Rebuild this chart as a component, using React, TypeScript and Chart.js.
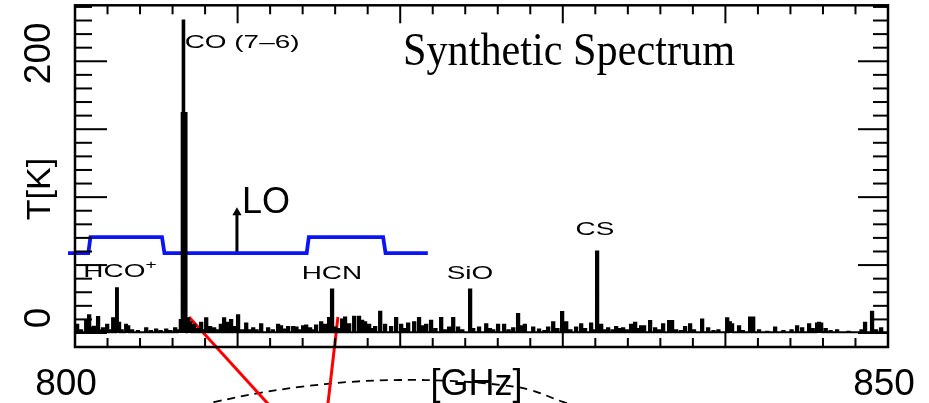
import React, { useEffect, useRef } from 'react';
import { Chart, registerables } from 'chart.js';

Chart.register(...registerables);

// ---- axis ranges & ticks ----
const X_MIN = 800;
const X_MAX = 850;
const Y_MIN = -10.3;
const Y_MAX = 241.2;
const xTickValues = [800, 850];
const xTickLabels = ['800', '850'];
const yTickValues = [0, 200];
const yTickLabels = ['0', '200'];
const xMinorStep = 2;
const xMajorStep = 10;
const yMinorStep = 10;
const yMajorStep = 50;

// ---- spectrum (GHz, K) ----
const baselineT = 0.5;
const channelWidth = 0.14;
const spikeFreq = [
  800.06, 800.3, 800.62, 800.8, 800.95, 801.11, 801.35, 801.5, 801.66, 801.91, 802.1, 802.28, 802.52, 802.64, 802.8,
  803.08, 803.2, 803.44, 803.8, 804.31, 804.6, 804.92, 805.2, 805.54, 805.8, 806.09, 806.3, 806.44,
  806.56, 806.62, 806.72, 806.89, 807.02, 807.26, 807.45, 807.69, 807.85, 808.0, 808.24, 808.49, 808.7, 808.9,
  809.1, 809.3, 809.53, 809.75, 809.96, 810.2, 810.46, 810.65, 810.89, 811.1, 811.38, 811.81, 812.1, 812.42,
  812.6, 812.8, 813.04, 813.35, 813.55, 813.8, 813.96, 814.15, 814.39, 814.6, 814.76, 815.07, 815.3, 815.56,
  815.74, 815.93, 816.15, 816.36, 816.54, 816.79, 817.1, 817.4, 817.59, 817.77, 818.02, 818.2, 818.39, 818.7,
  819.0, 819.37, 819.68, 819.99, 820.2, 820.42, 820.79, 821.09, 821.3, 821.53, 821.83, 822.1, 822.45, 822.7,
  822.94, 823.19, 823.49, 823.75, 824.23, 824.42, 824.78, 825.22, 825.45, 825.65, 825.95, 826.32, 826.6, 826.88,
  827.18, 827.4, 827.6, 828.11, 828.47, 828.8, 829.03, 829.34, 829.6, 829.89, 830.14, 830.4, 830.75, 831.06,
  831.3, 831.67, 831.85, 832.04, 832.29, 832.5, 832.72, 833.0, 833.21, 833.4, 833.64, 833.9, 834.13, 834.38,
  834.6, 834.75, 834.93, 835.3, 835.61, 835.85, 836.1, 836.47, 836.65, 836.9, 837.2, 837.45, 837.76, 838.0,
  838.5, 838.87, 839.2, 839.5, 840.04, 840.2, 840.34, 840.77, 841.0, 841.45, 841.64, 842.0, 842.5, 842.99,
  843.5, 844.0, 844.34, 844.65, 845.08, 845.3, 845.57, 845.7, 845.82, 846.1, 846.4, 846.8, 847.5, 848.3,
  848.52, 848.95, 849.2, 849.51,
];
const spikeT = [
  6, 2, 9.5, 13, 4, 4.6, 11.7, 2, 3.5, 6, 2, 10.8, 33, 7.5, 2,
  6, 5, 2, 1.5, 3.5, 1.5, 2.5, 1.5, 2.5, 1.5, 3.5, 2, 9.5,
  162, 230, 162, 10.8, 8, 6, 3, 7.5, 2, 10.8, 4.5, 3.5, 2, 6,
  10.8, 7.6, 9.5, 4.5, 13, 2, 7, 2, 3.5, 2, 6.5, 3.5, 2, 6,
  5, 2.5, 4.5, 4.5, 4, 2, 5, 5.5, 3.5, 2, 5.5, 8, 6, 11,
  32, 4, 3, 10, 11.5, 6.5, 12, 12, 9, 8, 6, 3, 4.5, 15.6,
  6, 4.5, 11, 6, 3, 7, 8, 11, 5, 6, 9, 3, 11, 2,
  4, 11, 4, 2, 32, 3, 4, 6.5, 3, 2, 6, 6, 2, 3.5,
  14, 5, 6, 4, 2.5, 1.5, 4, 8, 3, 15.5, 8, 2, 4, 6.5,
  3, 7, 2, 60, 6, 2, 3.5, 2, 4.5, 3, 3.5, 2, 6, 7.5,
  3, 5, 5, 8.8, 3.5, 2, 6.4, 8.8, 8.8, 2, 1.5, 4.5, 6.4, 2,
  10, 3.5, 1.5, 2, 10.8, 8, 6.4, 5, 1.5, 11.5, 11.5, 2, 1, 4,
  1.5, 2, 5, 3.5, 6.5, 3, 7, 7.5, 7, 3, 1.5, 2, 1, 2,
  7.5, 15.6, 2, 3.5,
];

// ---- labelled molecular lines ----
const lineNames = ['HCO', 'CO (7–6)', 'HCN', 'SiO', 'CS'];
const lineFreq = [802.52, 806.62, 815.74, 824.23, 832.04];
const linePeak = [33, 230, 32, 32, 60];

// ---- IF band (blue) ----
const ifBandFreq = [799.57, 800.82, 800.95, 805.35, 805.5, 814.25, 814.38, 818.95, 819.1, 821.7];
const ifBandT = [58.8, 58.8, 70.6, 70.6, 58.8, 58.8, 70.6, 70.6, 58.8, 58.8];

// ---- LO arrow ----
const loFreq = 809.96;
const loT = [58.8, 88.7];

// ---- red rays & dashed arc (below the axis) ----
const ray1Freq = [807.01, 811.99];
const ray1T = [11.8, -53.7];
const ray2Freq = [816.17, 815.54];
const ray2T = [11.8, -53.7];
const arcFreq = [807.69, 808.61, 811.38, 813.84, 816.91, 819.99, 823.06, 826.14, 827.98, 830.01, 831.06];
const arcT = [-53.7, -50.7, -44.1, -39.7, -36.0, -34.6, -35.3, -38.2, -41.9, -50.7, -54.4];

const SANS = '"Liberation Sans", Arial, Helvetica, sans-serif';
const SERIF = '"Liberation Serif", "Times New Roman", serif';

function buildSpectrum() {
  const idx = spikeFreq.map((_, i) => i).sort((a, b) => spikeFreq[a] - spikeFreq[b]);
  const pts: { x: number; y: number }[] = [{ x: X_MIN, y: baselineT }];
  idx.forEach((i, k) => {
    const f = spikeFreq[i];
    pts.push({ x: f, y: spikeT[i] });
    const end = f + channelWidth;
    const nextI = idx[k + 1];
    if (nextI === undefined || spikeFreq[nextI] > end + 1e-9) {
      pts.push({ x: Math.min(end, X_MAX), y: baselineT });
    }
  });
  pts.push({ x: X_MAX, y: baselineT });
  return pts;
}

const zip = (xs: number[], ys: number[]) => xs.map((x, i) => ({ x, y: ys[i] }));

function drawText(
  ctx: CanvasRenderingContext2D,
  s: string,
  x: number,
  y: number,
  font: string,
  align: CanvasTextAlign = 'left',
  sx = 1,
  rot = 0
) {
  ctx.save();
  ctx.translate(x, y);
  if (rot) ctx.rotate(rot);
  ctx.scale(sx, 1);
  ctx.font = font;
  ctx.textAlign = align;
  ctx.textBaseline = 'alphabetic';
  ctx.fillStyle = '#000';
  ctx.fillText(s, 0, 0);
  ctx.restore();
}

const decorPlugin = {
  id: 'decor',
  afterDatasetsDraw(chart: any) {
    const { ctx, chartArea: a, scales } = chart;
    const xs = scales.x;
    const ys = scales.y;
    ctx.save();
    ctx.strokeStyle = '#000';
    ctx.lineWidth = 2;
    ctx.lineCap = 'butt';
    const seg = (x1: number, y1: number, x2: number, y2: number) => {
      ctx.beginPath();
      ctx.moveTo(x1, y1);
      ctx.lineTo(x2, y2);
      ctx.stroke();
    };
    // x ticks (bottom & top, inward)
    for (let v = X_MIN; v <= X_MAX + 1e-6; v += xMinorStep) {
      const px = xs.getPixelForValue(v);
      const major = Math.abs((v - X_MIN) % xMajorStep) < 1e-6;
      seg(px, a.bottom, px, a.bottom - (major ? 14 : 9));
      seg(px, a.top, px, a.top + (major ? 18 : 9));
    }
    // y ticks (left & right, inward)
    for (let v = 0; v <= Y_MAX; v += yMinorStep) {
      const py = ys.getPixelForValue(v);
      const major = v % yMajorStep === 0;
      seg(a.left, py, a.left + (major ? 32 : 17), py);
      seg(a.right, py, a.right - (major ? 30 : 15), py);
    }
    // frame
    ctx.lineWidth = 2.5;
    ctx.strokeRect(a.left, a.top, a.right - a.left, a.bottom - a.top);
    ctx.restore();

    // tick labels
    const xLabelShift = [-9, -4];
    xTickValues.forEach((v, i) => {
      const px = xs.getPixelForValue(v);
      drawText(ctx, xTickLabels[i], px + xLabelShift[i], a.bottom + 48, `37px ${SANS}`, 'center');
    });
    const yLabelShift = [-15, -8];
    yTickValues.forEach((v, i) => {
      const py = ys.getPixelForValue(v);
      drawText(ctx, yTickLabels[i], 50, py + yLabelShift[i], `37px ${SANS}`, 'center', 1, -Math.PI / 2);
    });
    // axis titles
    drawText(ctx, 'T[K]', 50, 189, `34px ${SANS}`, 'center', 1, -Math.PI / 2);
    drawText(ctx, '[GHz]', (a.left + a.right) / 2 - 5, a.bottom + 48, `36px ${SANS}`, 'center');

    // title inside plot
    ctx.save();
    ctx.font = `46px ${SERIF}`;
    const tw = ctx.measureText('Synthetic Spectrum').width;
    ctx.restore();
    drawText(ctx, 'Synthetic Spectrum', 403, 65, `46px ${SERIF}`, 'left', 332 / tw);

    // line labels
    const SX = 1.47;
    const lf = `19px ${SANS}`;
    lineNames.forEach((name, i) => {
      const px = xs.getPixelForValue(lineFreq[i]);
      const py = ys.getPixelForValue(linePeak[i]);
      if (name === 'HCO') {
        ctx.save();
        ctx.font = lf;
        const w1 = ctx.measureText('HCO').width * SX;
        ctx.font = `13px ${SANS}`;
        const w2 = ctx.measureText('+').width * SX;
        ctx.restore();
        const left = px + 4 - (w1 + w2) / 2;
        drawText(ctx, 'HCO', left, py - 11, lf, 'left', SX);
        drawText(ctx, '+', left + w1, py - 19, `13px ${SANS}`, 'left', SX);
      } else if (name.startsWith('CO')) {
        drawText(ctx, name, px + 2, py + 27, lf, 'left', SX);
      } else if (name === 'CS') {
        drawText(ctx, name, px - 1, py - 16, lf, 'center', SX);
      } else {
        drawText(ctx, name, px + 1, py - 11, lf, 'center', SX);
      }
    });

    // LO label
    const lx = xs.getPixelForValue(loFreq);
    const ly = ys.getPixelForValue(loT[1]);
    drawText(ctx, 'LO', lx + 5, ly + 1, `36px ${SANS}`, 'left');
  },
};

export default function App() {
  const ref = useRef<HTMLCanvasElement | null>(null);
  useEffect(() => {
    if (!ref.current) return;
    const chart = new Chart(ref.current, {
      type: 'line',
      data: {
        datasets: [
          {
            label: 'spectrum',
            data: buildSpectrum(),
            borderColor: '#000',
            backgroundColor: '#000',
            borderWidth: 2,
            pointRadius: 0,
            stepped: true,
            fill: 'origin',
          },
          {
            label: 'IF band',
            data: zip(ifBandFreq, ifBandT),
            borderColor: 'rgb(12,20,245)',
            borderWidth: 3.8,
            pointRadius: 0,
            clip: false,
          },
          {
            label: 'LO',
            data: [
              { x: loFreq, y: loT[0] },
              { x: loFreq, y: loT[1] },
            ],
            borderColor: '#000',
            borderWidth: 3,
            pointRadius: [0, 5.3],
            pointStyle: 'triangle',
            pointBackgroundColor: '#000',
            pointBorderColor: '#000',
            pointBorderWidth: 0,
            clip: false,
          },
          {
            label: 'ray1',
            data: zip(ray1Freq, ray1T),
            borderColor: 'rgb(255,0,0)',
            borderWidth: 3,
            pointRadius: 0,
            clip: false,
          },
          {
            label: 'ray2',
            data: zip(ray2Freq, ray2T),
            borderColor: 'rgb(255,0,0)',
            borderWidth: 3,
            pointRadius: 0,
            clip: false,
          },
          {
            label: 'arc',
            data: zip(arcFreq, arcT),
            borderColor: '#000',
            borderWidth: 1.8,
            borderDash: [8, 6],
            pointRadius: 0,
            tension: 0.4,
            clip: false,
          },
        ],
      },
      options: {
        animation: false,
        responsive: false,
        parsing: false as any,
        layout: { padding: { left: 75, right: 41, top: 5, bottom: 56 } },
        scales: {
          x: { type: 'linear', min: X_MIN, max: X_MAX, display: false },
          y: { type: 'linear', min: Y_MIN, max: Y_MAX, display: false },
        },
        plugins: {
          legend: { display: false },
          tooltip: { enabled: false },
        },
        events: [],
      },
      plugins: [decorPlugin],
    });
    return () => chart.destroy();
  }, []);
  return (
    <div style={{ position: 'absolute', left: 0, top: 0, width: 929, height: 403, background: '#fff' }}>
      <canvas ref={ref} width={929} height={403} style={{ display: 'block' }} />
    </div>
  );
}
